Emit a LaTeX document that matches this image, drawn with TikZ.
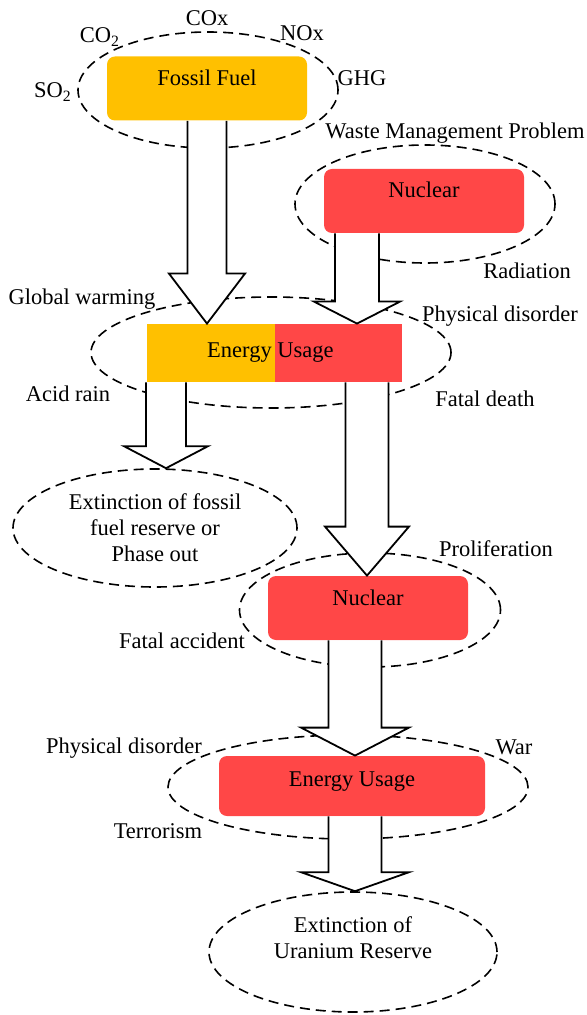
\documentclass[tikz,border=0pt]{standalone}
\usepackage{fontspec}
\setmainfont{Liberation Serif}
\newfontfamily\timesfont{Liberation Serif}
\usetikzlibrary{positioning}
\usetikzlibrary{shapes.geometric}
\usetikzlibrary{calc}

\definecolor{fossilorange}{RGB}{255,192,0}
\definecolor{nuclearred}{RGB}{255,71,71}

% hollow block arrow: from, tip, shaft half width, head half width, head length
\newcommand{\blockarrow}[5]{%
  \draw[bigarrow] ($(#1)+(-#3,0)$) -- ($(#2)+(-#3,-#5)$) -- ($(#2)+(-#4,-#5)$) -- (#2)
    -- ($(#2)+(#4,-#5)$) -- ($(#2)+(#3,-#5)$) -- ($(#1)+(#3,0)$);}

\begin{document}
\begin{tikzpicture}[x=0.5pt, y=-0.5pt,
      font=\timesfont\fontsize{11.25}{13}\selectfont,
      source/.style={rectangle, rounded corners=4pt, inner sep=0pt, text height=8pt, text depth=11pt, minimum width=100pt, minimum height=32pt},
      usage/.style={rectangle, inner sep=0pt, minimum height=29pt},
      zone/.style={ellipse, draw, dash pattern=on 5pt off 3pt, line width=0.8pt, inner sep=0pt},
      effect/.style={inner sep=0pt},
      bigarrow/.style={draw, fill=white, line width=0.9pt, line join=miter}
      ]
      \useasboundingbox (0,0) rectangle (586,1015);

      % Zones
      \node[zone, minimum width=130pt, minimum height=58pt] (zfossil) at (208,90) {};
      \node[zone, minimum width=130pt, minimum height=59pt] (znuc) at (425,204) {};
      \node[zone, minimum width=180pt, minimum height=55.5pt] (zusage) at (271,352.5) {};
      \node[zone, minimum width=142pt, minimum height=59pt, align=center] (extfossil) at (155,528) {Extinction of fossil\\fuel reserve or\\Phase out};
      \node[zone, minimum width=130.5pt, minimum height=57pt] (znuctwo) at (370,610) {};
      \node[zone, minimum width=180pt, minimum height=52pt] (zusagetwo) at (348,787) {};
      \node[zone, minimum width=144pt, minimum height=60pt, align=center, text depth=14pt] (exturanium) at (353,952) {Extinction of\\Uranium Reserve};

      % Nodes
      \node[source, fill=fossilorange] (fossil) at (207,88.5) {Fossil Fuel};
      \node[source, fill=nuclearred] (nuc) at (424,201) {Nuclear};
      \node[usage, fill=fossilorange, minimum width=64pt] (usageL) at (211,353) {};
      \node[usage, fill=nuclearred, minimum width=63.5pt, right=-0.4pt of usageL] (usageR) {};
      \node[effect] (usage) at ([xshift=-2.5pt]usageL.east) {Energy Usage};
      \node[source, fill=nuclearred] (nuctwo) at (368,608) {Nuclear};
      \node[source, fill=nuclearred, minimum width=133pt, minimum height=30pt, text depth=8pt] (usagetwo) at (352,786) {Energy Usage};

      % Arrows
      \coordinate (a2) at (357,0);
      \coordinate (a3) at (166,0);
      \coordinate (a4) at (367,0);
      \coordinate (a5) at (355,0);
      \blockarrow{fossil.south}{fossil.south |- usageL.north}{19.5}{38}{50}
      \blockarrow{a2 |- nuc.south}{a2 |- usageR.north}{22}{43}{22}
      \blockarrow{a3 |- usageL.south}{a3 |- extfossil.north}{20}{42}{22}
      \blockarrow{a4 |- usageR.south}{a4 |- nuctwo.north}{21.5}{42}{49}
      \blockarrow{a5 |- nuctwo.south}{a5 |- usagetwo.north}{26.5}{54}{28}
      \blockarrow{a5 |- usagetwo.south}{a5 |- exturanium.north}{26.5}{54}{19}

      % Labels
      \node[effect] (cox) at (207,18) {COx};
      \node[effect] (cotwo) at (100,37) {CO\textsubscript{2}};
      \node[effect] (nox) at (302,33) {NOx};
      \node[effect] (ghg) at (362,78) {GHG};
      \node[effect] (sotwo) at (53,92) {SO\textsubscript{2}};
      \node[effect] (waste) at (455,133) {Waste Management Problem};
      \node[effect] (radiation) at (527,271) {Radiation};
      \node[effect] (warming) at (82,299) {Global warming};
      \node[effect] (disorder) at (500,316) {Physical disorder};
      \node[effect] (acid) at (68,394) {Acid rain};
      \node[effect] (fatal) at (485,399) {Fatal death};
      \node[effect] (prolif) at (496,549) {Proliferation};
      \node[effect] (accident) at (182,641) {Fatal accident};
      \node[effect] (disordertwo) at (124,748) {Physical disorder};
      \node[effect] (war) at (514,747) {War};
      \node[effect] (terror) at (158,831) {Terrorism};

    \end{tikzpicture}
\end{document}
